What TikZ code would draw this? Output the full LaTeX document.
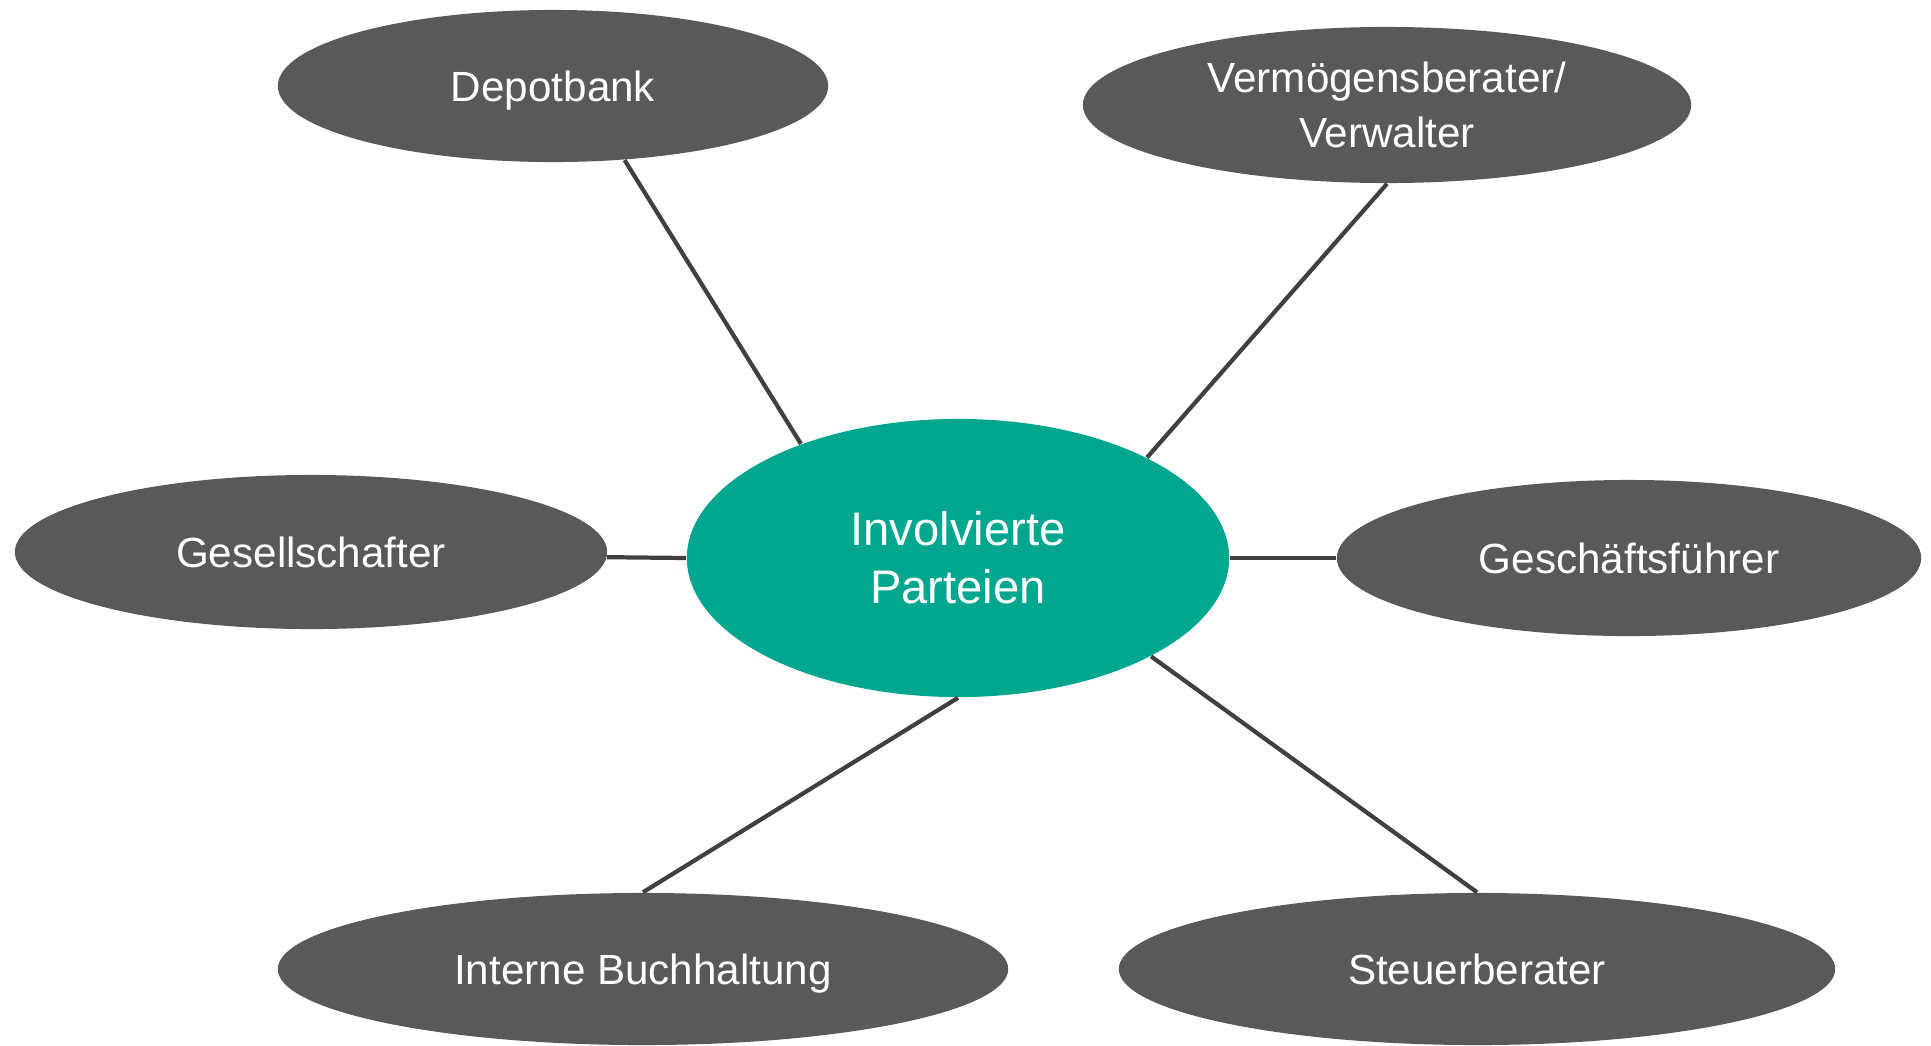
\documentclass[tikz,border=0pt]{standalone}
\usepackage{fontspec}
\setmainfont{Liberation Sans}
\usetikzlibrary{shapes.geometric}
\definecolor{partygrey}{RGB}{89,89,89}
\definecolor{partygreen}{RGB}{0,167,142}
\definecolor{linkgrey}{RGB}{64,64,64}
\begin{document}
\begin{tikzpicture}[x=0.01cm, y=-0.01cm,
  party/.style={ellipse, fill=partygrey, text=white, inner sep=0pt, text depth=0pt, align=center, font=\fontsize{12}{15.7}\selectfont},
  hub/.style={ellipse, fill=partygreen, text=white, inner sep=0pt, align=center, font=\fontsize{13.4}{16.5}\selectfont},
  link/.style={draw=linkgrey, line width=1.2pt}]
\useasboundingbox (0,0) rectangle (1931,1045);
\node[hub, minimum width=5.42cm, minimum height=2.78cm] (hub) at (958,558){Involvierte\\Parteien};
\node[party, minimum width=5.5cm, minimum height=1.52cm] (depot) at (553,86){Depotbank};
\node[party, minimum width=6.08cm, minimum height=1.56cm] (verm) at (1387,105){Vermögensberater/\\Verwalter};
\node[party, minimum width=5.92cm, minimum height=1.54cm] (gesell) at (311,552){Gesellschafter};
\node[party, minimum width=5.84cm, minimum height=1.56cm] (gf) at (1629,558){Geschäftsführer};
\node[party, minimum width=7.3cm, minimum height=1.52cm] (intern) at (643,969){Interne Buchhaltung};
\node[party, minimum width=7.16cm, minimum height=1.52cm] (steuer) at (1477,969){Steuerberater};
\draw[link] (depot.-46.6) -- (hub.144.7);
\draw[link] (verm.south) -- (hub.28);
\draw[link] (gesell.-1.3) -- (hub.west);
\draw[link] (hub.east) -- (gf.west);
\draw[link] (hub.south) -- (intern.north);
\draw[link] (hub.-27) -- (steuer.north);
\end{tikzpicture}
\end{document}
